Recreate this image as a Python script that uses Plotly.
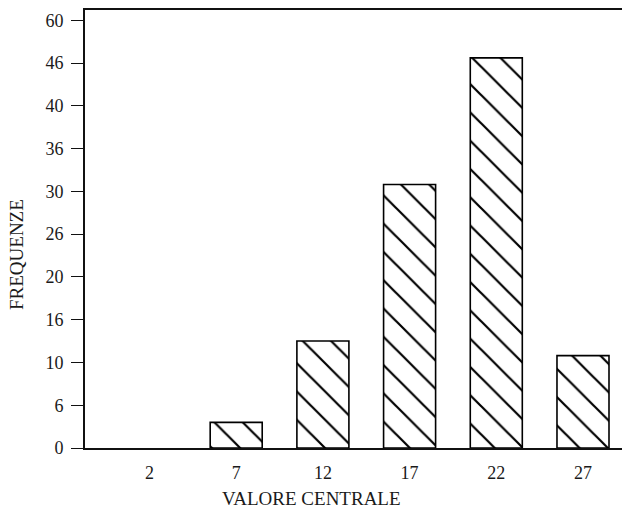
import plotly.graph_objects as go

categories = [2, 7, 12, 17, 22, 27]
frequencies = [0, 3, 12.5, 30.8, 45.6, 10.8]
y_tick_values = [0, 5, 10, 15, 20, 25, 30, 35, 40, 45, 50]
y_tick_labels = ["0", "6", "10", "16", "20", "26", "30", "36", "40", "46", "60"]

FONT = "Liberation Serif, Times New Roman, serif"
TXT = "#1a1a1a"

fig = go.Figure()
fig.add_trace(go.Bar(
    x=categories,
    y=frequencies,
    width=3,
    marker=dict(
        color="white",
        line=dict(color="black", width=[0 if f == 0 else 1.6 for f in frequencies]),
        pattern=dict(shape="\\", fgcolor="black", fgopacity=1, bgcolor="white", size=20, solidity=0.11),
    ),
    showlegend=False,
))

fig.update_layout(
    width=625, height=511,
    margin=dict(l=85, r=3, t=10, b=63),
    paper_bgcolor="white", plot_bgcolor="white",
    font=dict(family=FONT, size=18, color=TXT),
    xaxis=dict(
        range=[-1.72, 29.25],
        tickvals=categories,
        ticktext=[str(c) for c in categories],
        showline=True, linecolor="#111", linewidth=1.8,
        mirror=True,
        ticks="", showgrid=False, zeroline=False,
        ticklabelstandoff=7,
        tickfont=dict(family=FONT, size=18, color=TXT),
    ),
    yaxis=dict(
        range=[0, 51.2],
        tickvals=y_tick_values,
        ticktext=y_tick_labels,
        showline=True, linecolor="#111", linewidth=1.8,
        ticks="outside", ticklen=12, tickcolor="#111", tickwidth=1,
        showgrid=False, zeroline=False,
        ticklabelstandoff=4,
        tickfont=dict(family=FONT, size=18, color=TXT),
    ),
    annotations=[
        dict(text="FREQUENZE", xref="paper", yref="paper",
             x=0, xshift=-68, y=(448 - 255) / 438, xanchor="center", yanchor="middle",
             textangle=-90, showarrow=False,
             font=dict(family=FONT, size=19, color=TXT)),
        dict(text="VALORE CENTRALE", xref="paper", yref="paper",
             x=(311 - 85) / 537, y=0, yshift=-50, xanchor="center", yanchor="middle",
             showarrow=False,
             font=dict(family=FONT, size=19, color=TXT)),
    ],
)

fig.write_html("out.html", config={"displayModeBar": False},
               post_script="document.body.style.margin='0';document.body.style.overflow='hidden';")
